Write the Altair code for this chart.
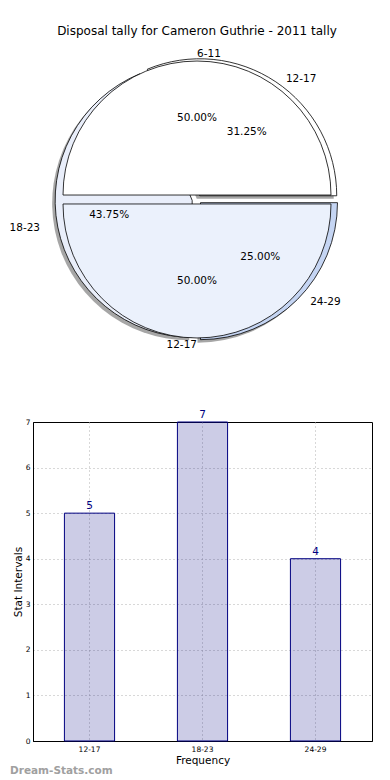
import math
import altair as alt
import pandas as pd

# ---------------- data ----------------
TITLE = "Disposal tally for Cameron Guthrie - 2011 tally"

front_labels = ["6-11", "12-17"]
front_values = [50, 50]
front_colors = ["#ffffff", "#ebf1fc"]

back_labels = ["12-17", "18-23", "24-29"]
back_values = [5, 7, 4]
back_colors = ["#ffffff", "#e9eefa", "#c5d5f3"]

bar_categories = ["12-17", "18-23", "24-29"]
bar_values = [5, 7, 4]

WATERMARK = "Dream-Stats.com"

# ---------------- layout ----------------
PLOT_LEFT = 31          # expected page x of the plot areas' left edge
W = 370 - PLOT_LEFT
PIE_H = 393
BAR_H = 319
CX, CY = 195 - PLOT_LEFT, 190.5
RX, RY = 141, 128
R = 134
EXPLODE = 0.035
FONT = "DejaVu Sans"
NAVY = "#000080"

THETA_SCALE = alt.Scale(domain=[0, 1], range=[math.pi / 2, math.pi / 2 - 2 * math.pi])


def pie_parts(labels, values, colors, back):
    df = pd.DataFrame({"label": labels, "value": values, "color": colors,
                       "order": list(range(len(labels)))})
    total = sum(values)
    base = (
        alt.Chart(df)
        .transform_window(cum="sum(value)", sort=[alt.SortField("order")], frame=[None, 0])
        .transform_calculate(f0=f"(datum.cum - datum.value) / {total}", f1=f"datum.cum / {total}")
        .transform_calculate(mid="(datum.f0 + datum.f1) / 2 * 2 * PI")
        .transform_calculate(px=f"{CX} + {EXPLODE * RX} * cos(datum.mid)")
        .transform_calculate(py=f"{CY} - {EXPLODE * RY} * sin(datum.mid)")
        .transform_calculate(sxp="datum.px - 3", syp="datum.py + 3")
        .transform_calculate(lx=f"datum.px + {1.1 * RX} * cos(datum.mid)")
        .transform_calculate(ly=f"datum.py - {1.1 * RY} * sin(datum.mid)")
        .transform_calculate(tx=f"datum.px + {0.6 * RX} * cos(datum.mid)")
        .transform_calculate(ty=f"datum.py - {0.6 * RY} * sin(datum.mid)")
        .transform_calculate(pct=f"format(datum.value / {total} * 100, '.2f') + '%'")
    )
    theta = alt.Theta("f0:Q", scale=THETA_SCALE, stack=False)
    theta2 = alt.Theta2("f1:Q")
    rad = R + 3 if back else R

    shadow = base.mark_arc(radius=rad, fill="#4d4d4d", fillOpacity=0.5).encode(
        x=alt.X("sxp:Q", scale=None, axis=None),
        y=alt.Y("syp:Q", scale=None, axis=None),
        theta=theta, theta2=theta2,
    )
    wedges = base.mark_arc(radius=rad, stroke="black", strokeWidth=0.8).encode(
        x=alt.X("px:Q", scale=None, axis=None),
        y=alt.Y("py:Q", scale=None, axis=None),
        theta=theta, theta2=theta2,
        fill=alt.Fill("color:N", scale=None),
    )
    txt = dict(font=FONT, fontSize=10.5, color="black", baseline="middle")
    lab_left = base.transform_filter("cos(datum.mid) > 0").mark_text(align="left", **txt).encode(
        x=alt.X("lx:Q", scale=None, axis=None), y=alt.Y("ly:Q", scale=None, axis=None), text="label:N")
    lab_right = base.transform_filter("cos(datum.mid) <= 0").mark_text(align="right", **txt).encode(
        x=alt.X("lx:Q", scale=None, axis=None), y=alt.Y("ly:Q", scale=None, axis=None), text="label:N")
    pct = base.mark_text(align="center", **txt).encode(
        x=alt.X("tx:Q", scale=None, axis=None), y=alt.Y("ty:Q", scale=None, axis=None), text="pct:N")
    return shadow, wedges, [lab_left, lab_right, pct]


b_shadow, b_wedges, b_texts = pie_parts(back_labels, back_values, back_colors, True)
f_shadow, f_wedges, f_texts = pie_parts(front_labels, front_values, front_colors, False)

title_mark = alt.Chart(pd.DataFrame({"t": [TITLE]})).mark_text(
    font=FONT, fontSize=12, color="black", align="center", baseline="middle"
).encode(text="t:N", x=alt.value(CX), y=alt.value(22))

pie = alt.layer(
    b_shadow, b_wedges, f_wedges, title_mark, *b_texts, *f_texts
).properties(width=W, height=PIE_H, view=alt.ViewBackground(stroke="transparent"))

# ---------------- bar chart ----------------
bar_df = pd.DataFrame({"cat": bar_categories, "val": bar_values})
ymax = max(bar_values)

x_enc = alt.X(
    "cat:N", sort=bar_categories,
    scale=alt.Scale(paddingInner=0, paddingOuter=0),
    axis=alt.Axis(title="Frequency", labelAngle=0, grid=True, ticks=False,
                  labelFontSize=7.5, labelPadding=4, titleFontSize=10.5, titlePadding=3),
)
y_enc = alt.Y(
    "val:Q",
    scale=alt.Scale(domain=[0, ymax]),
    axis=alt.Axis(title="Stat Intervals", values=list(range(0, ymax + 1)),
                  grid=True, ticks=False, labelFontSize=7.5, labelPadding=3,
                  titleFontSize=10.5, titlePadding=2,
                  gridOpacity={"condition": {"test": f"datum.value >= {ymax} || datum.value <= 0",
                                             "value": 0}, "value": 1}),
)

bars = alt.Chart(bar_df).mark_bar(
    width=alt.RelativeBandSize(0.444), fill=NAVY, fillOpacity=0.2, stroke=NAVY, strokeWidth=1
).encode(x=x_enc, y=y_enc)

bar_text = alt.Chart(bar_df).mark_text(
    color=NAVY, fontSize=10.5, baseline="bottom", dy=-2, font=FONT
).encode(x=alt.X("cat:N", sort=bar_categories), y="val:Q", text="val:Q")

watermark = alt.Chart(pd.DataFrame({"t": [WATERMARK]})).mark_text(
    align="left", baseline="middle", fontSize=10.5, fontWeight="bold", color="#a0a0a0", font=FONT
).encode(text="t:N", x=alt.value(8 - PLOT_LEFT), y=alt.value(349))

bar = alt.layer(bars, bar_text, watermark).properties(
    width=W, height=BAR_H, view=alt.ViewBackground(stroke="black", strokeWidth=1)
)

chart = (
    alt.vconcat(pie, bar, spacing=20, bounds="flush")
    .properties(padding={"left": 1, "top": 0, "right": 5, "bottom": 2})
    .configure(font=FONT)
    .configure_axis(
        labelFont=FONT, titleFont=FONT, labelColor="black", titleColor="black",
        titleFontWeight="normal", domainColor="black", domainWidth=1,
        gridColor="#b0b0b0", gridDash=[1, 3], gridWidth=1,
    )
)

chart.save("out.html", embed_options={"renderer": "svg", "actions": False})
